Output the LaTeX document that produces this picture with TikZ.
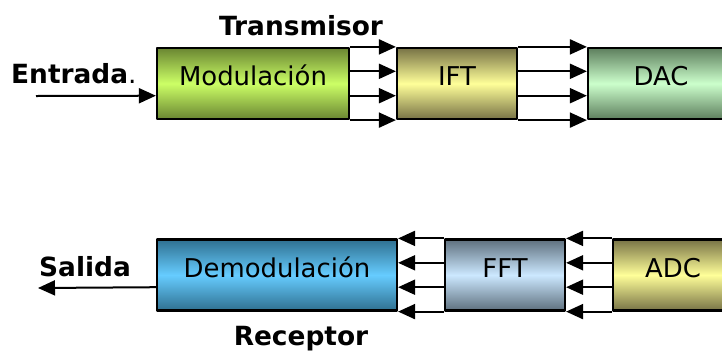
\documentclass[tikz,border=0pt]{standalone}
\usepackage{fontspec}
\setmainfont{DejaVu Sans}
\usetikzlibrary{arrows.meta,calc,positioning}
\definecolor{modtop}{HTML}{6A8632}
\definecolor{modmid}{HTML}{CCFF66}
\definecolor{ylwtop}{HTML}{787346}
\definecolor{ylwmid}{HTML}{FFFF99}
\definecolor{dactop}{HTML}{5E7F5E}
\definecolor{dacmid}{HTML}{CCFFCC}
\definecolor{demtop}{HTML}{2F7090}
\definecolor{demmid}{HTML}{66CCFF}
\definecolor{ffttop}{HTML}{5E707E}
\definecolor{fftmid}{HTML}{CCE8FF}
\tikzset{
  bloque/.style={draw=black, line width=2.2bp, minimum height=71bp, inner sep=0pt,
    text height=19bp, text depth=15bp, font=\fontsize{26}{30}\selectfont},
  etiq/.style={font=\fontsize{26.5}{30}\selectfont\bfseries, inner sep=0pt},
  flecha/.style={line width=2bp, -{Triangle[length=17bp,width=15bp]}}
}
\begin{document}
\begin{tikzpicture}[x=1bp, y=-1bp, line join=round]
		\useasboundingbox (0,0) rectangle (722,351);
		\clip (0,0) rectangle (722,351);
		% transmisor
		\node[bloque, minimum width=192bp, top color=modtop, bottom color=modtop, middle color=modmid] (mod) at (253,83.5) {Modulación};
		\node[bloque, minimum width=120bp, top color=ylwtop, bottom color=ylwtop, middle color=ylwmid] (ift) at (457,83.5) {IFT};
		\node[bloque, minimum width=146bp, top color=dactop, bottom color=dactop, middle color=dacmid] (dac) at (661,83.5) {DAC};
		% receptor
		\node[bloque, minimum width=240bp, top color=demtop, bottom color=demtop, middle color=demmid] (dem) at (277,275) {Demodulación};
		\node[bloque, minimum width=120bp, top color=ffttop, bottom color=ffttop, middle color=fftmid] (fft) at (505,275) {FFT};
		\node[bloque, minimum width=120bp, top color=ylwtop, bottom color=ylwtop, middle color=ylwmid] (adc) at (673,275) {ADC};
		\foreach \f in {0,1/3,2/3,1}{
			\draw[flecha] ($(mod.north east)!\f!(mod.south east)$) -- ($(ift.north west)!\f!(ift.south west)$);
			\draw[flecha] ($(ift.north east)!\f!(ift.south east)$) -- ($(dac.north west)!\f!(dac.south west)$);
			\draw[flecha] ($(fft.north west)!\f!(fft.south west)$) -- ($(dem.north east)!\f!(dem.south east)$);
			\draw[flecha] ($(adc.north west)!\f!(adc.south west)$) -- ($(fft.north east)!\f!(fft.south east)$);
		}
		% entrada y salida
		\coordinate (ent) at (36,96);
		\coordinate (sal) at (38,288);
		\draw[flecha] (ent) -- ($(mod.north west)!2/3!(mod.south west)$);
		\draw[flecha] ($(dem.north west)!2/3!(dem.south west)$) -- (sal);
		\node[etiq, anchor=base west] (entrada) at (11,83) {Entrada{\mdseries.}};
		\node[etiq, anchor=base] (salida) at (85,276) {Salida};
		\node[etiq, anchor=base] (transmisor) at (301,35) {Transmisor};
		\node[etiq, anchor=base] (receptor) at (301,345) {Receptor};
\end{tikzpicture}
\end{document}
